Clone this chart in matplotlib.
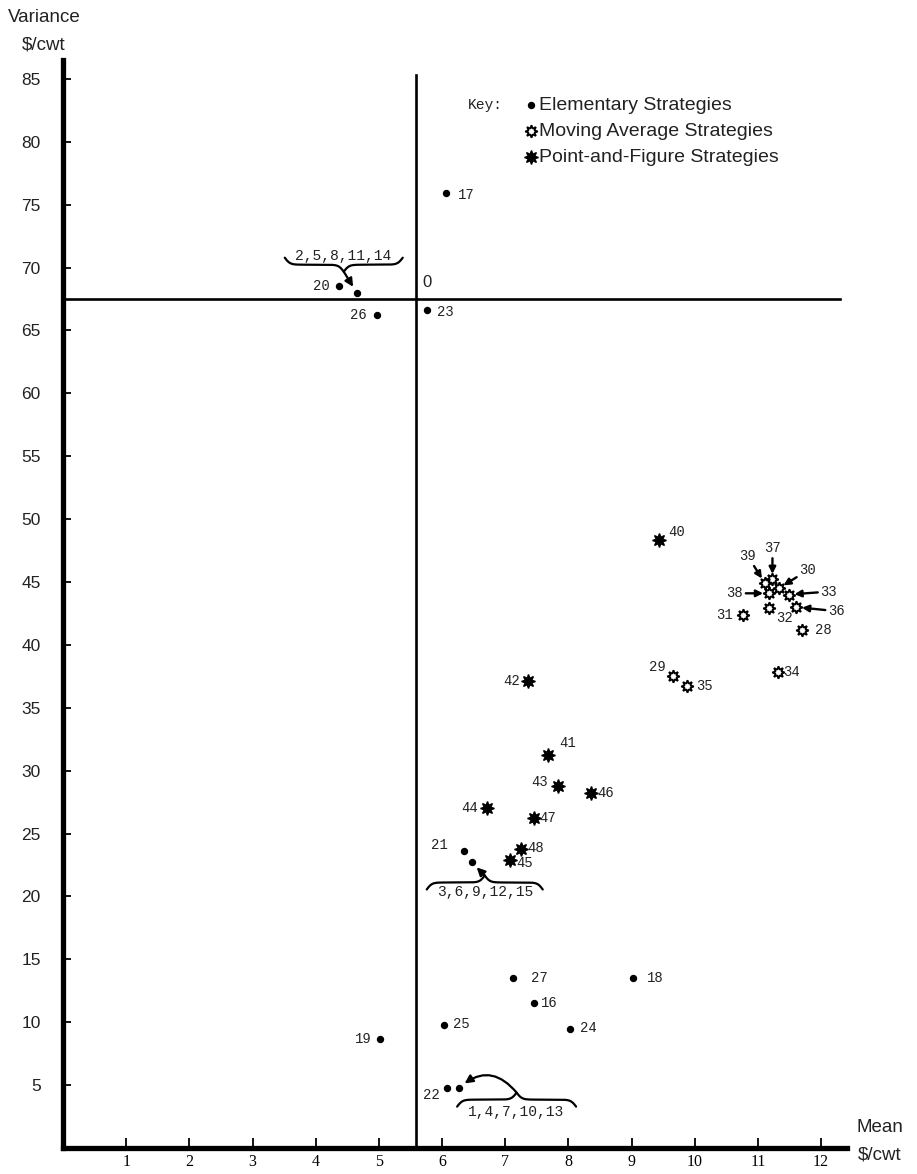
import numpy as np
import matplotlib.pyplot as plt

W, H = 917, 1174

# ---- data (mean $/cwt, variance $/cwt) ----
elem_lbl = ['17', '20', '2,5,8,11,14', '26', '23', '21', '3,6,9,12,15', '27',
            '16', '18', '25', '24', '19', '22', '1,4,7,10,13']
elem_x = [6.06, 4.37, 4.65, 4.97, 5.76, 6.35, 6.47, 7.12, 7.45, 9.03, 6.03, 8.02, 5.02, 6.08, 6.27]
elem_y = [75.9, 68.5, 68.0, 66.2, 66.6, 23.6, 22.7, 13.5, 11.5, 13.5, 9.8, 9.5, 8.7, 4.8, 4.8]

ma_lbl = ['28', '29', '30', '31', '32', '33', '34', '35', '36', '37', '38', '39']
ma_x = [11.69, 9.65, 11.33, 10.76, 11.17, 11.49, 11.31, 9.87, 11.61, 11.23, 11.17, 11.11]
ma_y = [41.2, 37.5, 44.5, 42.4, 42.9, 44.0, 37.85, 36.7, 43.0, 45.2, 44.1, 44.9]

pf_lbl = ['40', '41', '42', '43', '44', '45', '46', '47', '48']
pf_x = [9.43, 7.67, 7.36, 7.83, 6.71, 7.07, 8.35, 7.45, 7.25]
pf_y = [48.3, 31.25, 37.1, 28.8, 27.0, 22.9, 28.2, 26.2, 23.8]

ref_mean = 5.59   # point "0"
ref_var = 67.5

x_ticks = list(range(1, 13))
y_ticks = list(range(5, 90, 5))

# label offsets in pixels (dx, dy up, alignment)
place = {
    '17': (12, -2, 'left'), '20': (-9, 0, 'right'), '26': (-10, 0, 'right'), '23': (10, -2, 'left'),
    '21': (-16, 6, 'right'), '27': (18, 0, 'left'), '16': (7, 0, 'left'), '18': (13, 0, 'left'),
    '25': (9, 1, 'left'), '24': (10, 1, 'left'), '19': (-8, 0, 'right'), '22': (-7, -7, 'right'),
    '28': (13, 0, 'left'), '29': (-7, 9, 'right'), '31': (-10, 0, 'right'), '32': (7, -10, 'left'),
    '34': (6, 0, 'left'), '35': (10, 0, 'left'),
    '40': (10, 8, 'left'), '41': (12, 12, 'left'), '42': (-8, 0, 'right'), '43': (-10, 4, 'right'),
    '44': (-9, 0, 'right'), '45': (7, -3, 'left'), '46': (7, 0, 'left'), '47': (6, 0, 'left'),
    '48': (6, 1, 'left'),
}
arrowed = {'30': (29, 18), '33': (40, 3), '36': (40, -4), '37': (0, 31), '38': (-34, 0), '39': (-17, 27)}
# brace groups: left, right, ends dy, tip direction, text dx, text dy
braces = {
    '2,5,8,11,14': (-72, 46, 35, -1, -14, 37),
    '3,6,9,12,15': (-45, 71, -27, 1, 13, -30),
    '1,4,7,10,13': (-2, 117, -19, 1, 57, -24),
}

MONO = 'Liberation Mono'
SANS = 'Liberation Sans'
INK = '#222222'

fig = plt.figure(figsize=(W / 100, H / 100), dpi=100)
ax = fig.add_axes([63 / W, 26 / H, 784 / W, 1088 / H])
ax.set_xlim(0, 12.41)
ax.set_ylim(0, 86.5)

for s in ['top', 'right']:
    ax.spines[s].set_visible(False)
for s in ['left', 'bottom']:
    ax.spines[s].set_linewidth(3.8)
    ax.spines[s].set_color('black')

ax.set_xticks(x_ticks)
ax.set_xticklabels([str(t) for t in x_ticks], family='Liberation Serif', fontsize=11.5)
ax.set_yticks(y_ticks)
ax.set_yticklabels([str(t) for t in y_ticks], family=SANS, fontsize=12.5, color=INK)
ax.tick_params(axis='x', direction='in', length=7, width=1.3, pad=4)
ax.tick_params(axis='y', direction='in', length=6, width=1.3, pad=16)

# crosshair through point 0
ax.axvline(ref_mean, ymax=85.3 / 86.5, color='black', lw=1.9)
ax.axhline(ref_var, xmax=12.3 / 12.41, color='black', lw=1.9)
ax.annotate('0', (ref_mean, ref_var), xytext=(6, 9), textcoords='offset pixels',
            family=SANS, fontsize=12, color=INK, ha='left', va='bottom')

ax.plot(elem_x, elem_y, 'o', color='black', ms=4.3, ls='none')
ax.plot(ma_x, ma_y, marker=(8, 1, 0), ms=9, mfc='white', mec='black', mew=1.3, ls='none')
ax.plot(pf_x, pf_y, marker=(8, 1, 0), ms=10, color='black', ls='none')


def lab(name, x, y):
    if name in place:
        dx, dy, ha = place[name]
        ax.annotate(name, (x, y), xytext=(dx, dy), textcoords='offset pixels',
                    ha=ha, va='center', family=MONO, fontsize=10, color=INK)
    elif name in arrowed:
        dx, dy = arrowed[name]
        ax.annotate(name, (x, y), xytext=(dx, dy), textcoords='offset pixels',
                    ha='center', va='center', family=MONO, fontsize=10, color=INK,
                    arrowprops=dict(arrowstyle='-|>', color='black', lw=1.7,
                                    shrinkA=0, shrinkB=4, mutation_scale=10))


def to_data(px, py):
    return ax.transData.inverted().transform(np.column_stack([px, py]))


def brace(name, x, y):
    left, right, base, sign, tdx, tdy = braces[name]
    ox, oy = ax.transData.transform((x, y))
    q = np.linspace(0, 0.5, 120)
    beta = 45
    s = 1 / (1 + np.exp(-beta * q)) + 1 / (1 + np.exp(-beta * (q - 0.5))) - 0.5
    q2 = np.concatenate([q, 1 - q[::-1]])
    s2 = np.concatenate([s, s[::-1]])
    height = 14
    px = ox + left + q2 * (right - left)
    py = oy + base + sign * height * s2
    pts = to_data(px, py)
    ax.plot(pts[:, 0], pts[:, 1], color='black', lw=1.6, solid_capstyle='round')
    tip = to_data([ox + (left + right) / 2], [oy + base + sign * height])[0]
    if name == '1,4,7,10,13':
        cs = 'arc3,rad=0.5'
    else:
        cs = 'arc3,rad=0'
    ax.annotate('', (x, y), xytext=tip, textcoords='data',
                arrowprops=dict(arrowstyle='-|>', color='black', lw=1.6, shrinkA=0,
                                shrinkB=5, mutation_scale=12, connectionstyle=cs))
    ax.annotate(name, (x, y), xytext=(tdx, tdy), textcoords='offset pixels',
                ha='center', va='center', family=MONO, fontsize=10.5, color=INK)


for names, xs, ys in [(elem_lbl, elem_x, elem_y), (ma_lbl, ma_x, ma_y), (pf_lbl, pf_x, pf_y)]:
    for n, x, y in zip(names, xs, ys):
        if n in braces:
            brace(n, x, y)
        else:
            lab(n, x, y)

# key
fig.text(468 / W, 1 - 105 / H, 'Key:', family=MONO, fontsize=10.5, color=INK, va='center')
key_rows = [('Elementary Strategies', dict(marker='o', ms=4.3, color='black')),
            ('Moving Average Strategies', dict(marker=(8, 1, 0), ms=9, mfc='white', mec='black', mew=1.3)),
            ('Point-and-Figure Strategies', dict(marker=(8, 1, 0), ms=10, color='black'))]
for i, (txt, st) in enumerate(key_rows):
    yy = 105 + 26 * i
    ax.plot([531 / W], [1 - yy / H], transform=fig.transFigure, clip_on=False, ls='none', **st)
    fig.text(539 / W, 1 - yy / H, txt, family=SANS, fontsize=14, color=INK, va='center')

fig.text(44 / W, 1 - 18 / H, 'Variance', family=SANS, fontsize=13.5, color=INK, ha='center', va='center')
fig.text(44 / W, 1 - 45 / H, '$/cwt', family=SANS, fontsize=13.5, color=INK, ha='center', va='center')
fig.text(880 / W, 1 - 1128 / H, 'Mean', family=SANS, fontsize=13.5, color=INK, ha='center', va='center')
fig.text(880 / W, 1 - 1155 / H, '$/cwt', family=SANS, fontsize=13.5, color=INK, ha='center', va='center')

fig.savefig('out.png', dpi=100)
